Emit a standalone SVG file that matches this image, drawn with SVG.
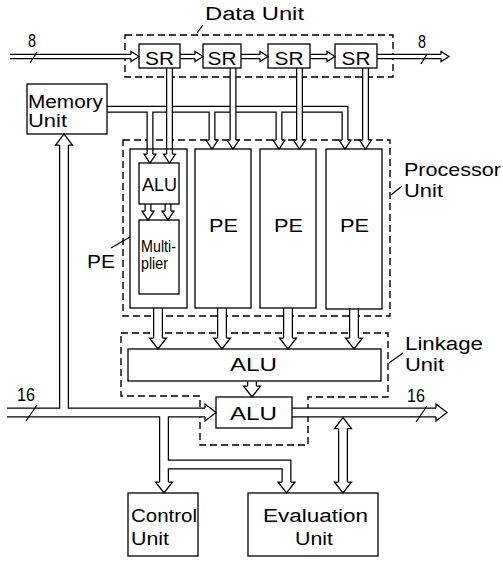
<svg xmlns="http://www.w3.org/2000/svg" xmlns:xlink="http://www.w3.org/1999/xlink" width="503" height="561" viewBox="0 0 503 561">
<style>
.t{font-family:"Liberation Sans",Arial,sans-serif;font-size:18px;fill:#000}
.n{font-family:"Liberation Sans Narrow","Liberation Sans",Arial,sans-serif;font-size:18px;fill:#000}
.box{fill:none;stroke:#000;stroke-width:1.3}
.dash{fill:none;stroke:#000;stroke-width:1.4;stroke-dasharray:7 4}
.fo{fill:none;stroke:#000;stroke-width:5.5}
.fi{fill:none;stroke:#fff;stroke-width:3}
.so{fill:none;stroke:#000;stroke-width:7}
.si{fill:none;stroke:#fff;stroke-width:4.5}
.to{fill:none;stroke:#000;stroke-width:10}
.ti{fill:none;stroke:#fff;stroke-width:7.5}
.ln{fill:none;stroke:#000;stroke-width:1.2}
</style>
<defs>
<path id="hf" d="M-2.1,-8 H-5 L0,0 L5,-8 H2.1"/>
<path id="hs" d="M-2.9,-9 H-6 L0,0 L6,-9 H2.9"/>
<path id="ht" d="M-4.4,-11 H-8.5 L0,0 L8.5,-11 H4.4"/>
</defs>

<g id="dashed-units">
<rect id="data-unit-frame" class="dash" x="125" y="35" width="268" height="42"/>
<rect id="processor-unit-frame" class="dash" x="123" y="140" width="267" height="176"/>
<path id="linkage-unit-frame" class="dash" d="M121,333 H388 V397 H308 V445 H200 V396 H121 Z"/>
</g>

<g id="connectors">
<g id="bus-outer">
<path class="fo" d="M10,56.5 H131 M180,56.5 H195 M241,56.5 H260 M310,56.5 H327 M377,56.5 H441"/>
<path class="so" d="M107,109.2 H345 V140 M150,109.2 V154 M212,109.2 V140 M279,109.2 V140"/>
<path class="si" d="M107,109.2 H345 V140 M150,109.2 V154 M212,109.2 V140 M279,109.2 V140"/>
<path class="so" d="M169.5,68 V154 M233,68 V140 M299.5,68 V140 M365.5,68 V140 M148,204 V211 M168,204 V211"/>
<path class="to" d="M158,308 V338 M222,308 V338 M288,308 V338 M354,308 V338 M252,381 V386"/>
<path class="to" d="M7,412.5 H205 M64,144 V412.5 M292,412.5 H436 M164,412.5 V482 M164,464.5 H286.5 V482 M343,428.5 V482"/>
</g>
<g id="bus-inner">
<path class="fi" d="M10,56.5 H131 M180,56.5 H195 M241,56.5 H260 M310,56.5 H327 M377,56.5 H441"/>
<path class="si" d="M169.5,68 V154 M233,68 V140 M299.5,68 V140 M365.5,68 V140 M148,204 V211 M168,204 V211"/>
<path class="ti" d="M158,308 V338 M222,308 V338 M288,308 V338 M354,308 V338 M252,381 V386"/>
<path class="ti" d="M7,412.5 H205 M64,144 V412.5 M292,412.5 H436 M164,412.5 V482 M164,464.5 H286.5 V482 M343,428.5 V482"/>
</g>
<g id="heads" fill="#fff" stroke="#000" stroke-width="1.25">
<use xlink:href="#hf" href="#hf" transform="translate(139,56.5) rotate(-90)"/>
<use xlink:href="#hf" href="#hf" transform="translate(203,56.5) rotate(-90)"/>
<use xlink:href="#hf" href="#hf" transform="translate(268,56.5) rotate(-90)"/>
<use xlink:href="#hf" href="#hf" transform="translate(335,56.5) rotate(-90)"/>
<use xlink:href="#hf" href="#hf" transform="translate(449,56.5) rotate(-90)"/>
<use xlink:href="#hs" href="#hs" transform="translate(150,163)"/>
<use xlink:href="#hs" href="#hs" transform="translate(169.5,163)"/>
<use xlink:href="#hs" href="#hs" transform="translate(212,149)"/>
<use xlink:href="#hs" href="#hs" transform="translate(233,149)"/>
<use xlink:href="#hs" href="#hs" transform="translate(279,149)"/>
<use xlink:href="#hs" href="#hs" transform="translate(299.5,149)"/>
<use xlink:href="#hs" href="#hs" transform="translate(345,149)"/>
<use xlink:href="#hs" href="#hs" transform="translate(365.5,149)"/>
<use xlink:href="#hs" href="#hs" transform="translate(148,220)"/>
<use xlink:href="#hs" href="#hs" transform="translate(168,220)"/>
<use xlink:href="#ht" href="#ht" transform="translate(158,349)"/>
<use xlink:href="#ht" href="#ht" transform="translate(222,349)"/>
<use xlink:href="#ht" href="#ht" transform="translate(288,349)"/>
<use xlink:href="#ht" href="#ht" transform="translate(354,349)"/>
<use xlink:href="#ht" href="#ht" transform="translate(252,397)"/>
<use xlink:href="#ht" href="#ht" transform="translate(216,412.5) rotate(-90)"/>
<use xlink:href="#ht" href="#ht" transform="translate(64,134) rotate(180)"/>
<use xlink:href="#ht" href="#ht" transform="translate(447,412.5) rotate(-90)"/>
<use xlink:href="#ht" href="#ht" transform="translate(164,493)"/>
<use xlink:href="#ht" href="#ht" transform="translate(286.5,493)"/>
<use xlink:href="#ht" href="#ht" transform="translate(343,493)"/>
<use xlink:href="#ht" href="#ht" transform="translate(343,417.5) rotate(180)"/>
</g>
<g id="width-marks">
<path class="ln" d="M30,63 L37,52 M421,64 L427,54 M26,421 L37,405 M416,422 L427,406"/>
<text class="n" x="28" y="47" textLength="8" lengthAdjust="spacingAndGlyphs">8</text>
<text class="n" x="418" y="48" textLength="8" lengthAdjust="spacingAndGlyphs">8</text>
<text class="n" x="17" y="401" textLength="18" lengthAdjust="spacingAndGlyphs">16</text>
<text class="n" x="407" y="402" textLength="18" lengthAdjust="spacingAndGlyphs">16</text>
</g>
<g id="leaders">
<path class="ln" d="M197,33 L203,25 M391,195 L402,186 M111,248 L130,237 M389,363 L403,353"/>
</g>
</g>

<g id="data-unit-label"><text class="t" x="205" y="20" textLength="99" lengthAdjust="spacingAndGlyphs">Data Unit</text></g>
<g id="sr1"><rect class="box" x="139" y="44" width="41" height="24"/><text class="t" x="145" y="64.5" textLength="29" lengthAdjust="spacingAndGlyphs">SR</text></g>
<g id="sr2"><rect class="box" x="203" y="44" width="38" height="24"/><text class="t" x="207.5" y="64.5" textLength="29" lengthAdjust="spacingAndGlyphs">SR</text></g>
<g id="sr3"><rect class="box" x="268" y="44" width="42" height="24"/><text class="t" x="274.5" y="64.5" textLength="29" lengthAdjust="spacingAndGlyphs">SR</text></g>
<g id="sr4"><rect class="box" x="335" y="44" width="42" height="24"/><text class="t" x="341.5" y="64.5" textLength="29" lengthAdjust="spacingAndGlyphs">SR</text></g>
<g id="memory-unit"><rect class="box" x="27" y="84" width="80" height="50"/><text class="t" x="28" y="108" textLength="75" lengthAdjust="spacingAndGlyphs">Memory</text><text class="t" x="28" y="127" textLength="39" lengthAdjust="spacingAndGlyphs">Unit</text></g>
<g id="processor-unit-label"><text class="t" x="404" y="176" textLength="97" lengthAdjust="spacingAndGlyphs">Processor</text><text class="t" x="404" y="197" textLength="39" lengthAdjust="spacingAndGlyphs">Unit</text></g>
<g id="pe1"><rect class="box" x="130" y="149" width="57" height="159"/>
<rect class="box" x="139" y="163" width="40" height="41"/><text class="t" x="142" y="191" textLength="35" lengthAdjust="spacingAndGlyphs">ALU</text>
<rect class="box" x="139" y="220" width="40" height="74"/><text class="t" x="141" y="252" style="font-size:16px" textLength="35" lengthAdjust="spacingAndGlyphs">Multi-</text><text class="t" x="141" y="269" style="font-size:16px" textLength="27" lengthAdjust="spacingAndGlyphs">plier</text></g>
<g id="pe-label"><text class="t" x="87" y="268" textLength="28" lengthAdjust="spacingAndGlyphs">PE</text></g>
<g id="pe2"><rect class="box" x="195" y="149" width="56" height="159"/><text class="t" x="209" y="232" textLength="29" lengthAdjust="spacingAndGlyphs">PE</text></g>
<g id="pe3"><rect class="box" x="260" y="149" width="56" height="159"/><text class="t" x="274" y="232" textLength="29" lengthAdjust="spacingAndGlyphs">PE</text></g>
<g id="pe4"><rect class="box" x="326" y="149" width="56" height="160"/><text class="t" x="340" y="232" textLength="29" lengthAdjust="spacingAndGlyphs">PE</text></g>
<g id="linkage-alu"><rect class="box" x="128" y="349" width="253" height="32"/><text class="t" x="230" y="371" textLength="47" lengthAdjust="spacingAndGlyphs">ALU</text></g>
<g id="output-alu"><rect class="box" x="216" y="397" width="76" height="31"/><text class="t" x="230" y="420" textLength="47" lengthAdjust="spacingAndGlyphs">ALU</text></g>
<g id="linkage-unit-label"><text class="t" x="405" y="350" textLength="78" lengthAdjust="spacingAndGlyphs">Linkage</text><text class="t" x="405" y="371" textLength="39" lengthAdjust="spacingAndGlyphs">Unit</text></g>
<g id="control-unit"><rect class="box" x="128" y="493" width="70" height="63"/><text class="t" x="131" y="522" textLength="66" lengthAdjust="spacingAndGlyphs">Control</text><text class="t" x="131" y="545" textLength="38" lengthAdjust="spacingAndGlyphs">Unit</text></g>
<g id="evaluation-unit"><rect class="box" x="248" y="493" width="130" height="63"/><text class="t" x="263" y="522" textLength="105" lengthAdjust="spacingAndGlyphs">Evaluation</text><text class="t" x="295" y="545" textLength="38" lengthAdjust="spacingAndGlyphs">Unit</text></g>
</svg>
